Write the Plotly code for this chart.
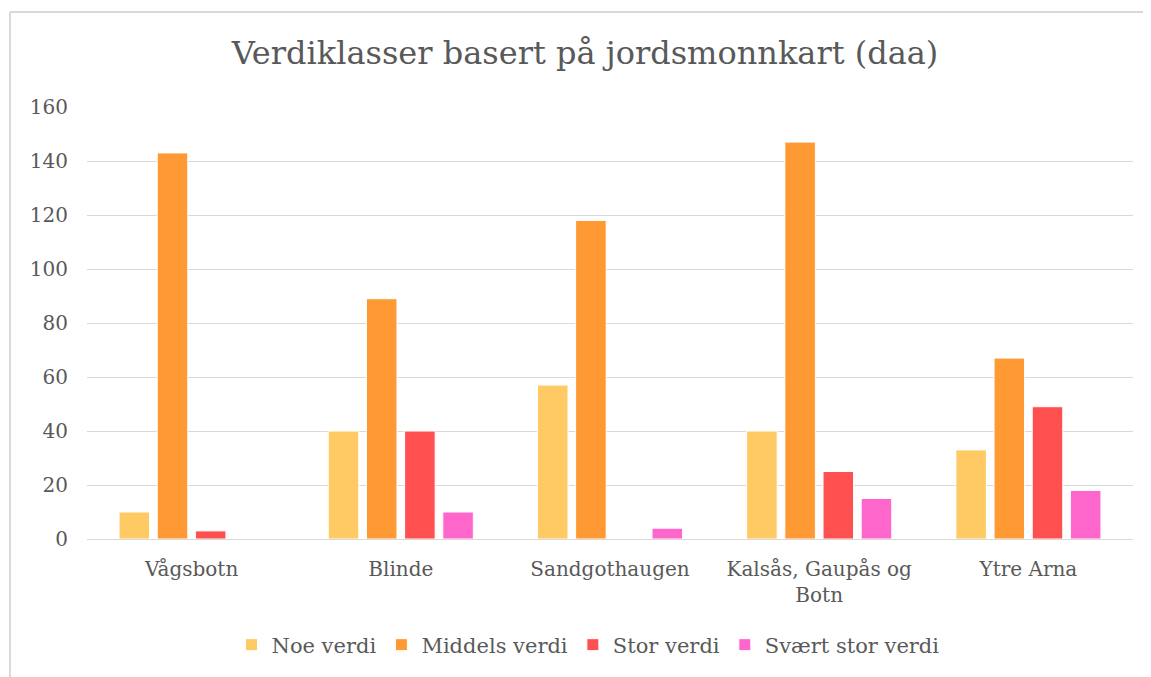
import plotly.graph_objects as go

categories = ["Vågsbotn", "Blinde", "Sandgothaugen", "Kalsås, Gaupås og<br>Botn", "Ytre Arna"]
series_names = ["Noe verdi", "Middels verdi", "Stor verdi", "Svært stor verdi"]
noe_verdi = [10, 40, 57, 40, 33]
middels_verdi = [143, 89, 118, 147, 67]
stor_verdi = [3, 40, 0, 25, 49]
svaert_stor_verdi = [0, 10, 4, 15, 18]
colors = ["#FFCA64", "#FF9933", "#FF5050", "#FF66CC"]
y_ticks = [0, 20, 40, 60, 80, 100, 120, 140, 160]

FONT = "DejaVu Serif, Liberation Serif, serif"
TXT = "#595959"

# page body has an 8px margin; figure coordinates are offset accordingly
W, H = 1147, 671
L, R, T, B = 79, 22, 99, 140
pw = W - L - R
ph = H - T - B

fig = go.Figure()
for name, vals, col in zip(series_names, [noe_verdi, middels_verdi, stor_verdi, svaert_stor_verdi], colors):
    fig.add_trace(go.Bar(name=name, x=categories, y=vals, marker=dict(color=col, line=dict(color="white", width=1))))

fig.update_layout(
    width=W, height=H,
    paper_bgcolor="white", plot_bgcolor="white",
    margin=dict(l=L, r=R, t=T, b=B, autoexpand=False),
    barmode="group", bargap=0.27, bargroupgap=0.2,
    title=dict(text="Verdiklasser basert på jordsmonnkart (daa)", x=(585 - 8) / W, xanchor="center",
               y=1 - 45 / H, yanchor="middle",
               font=dict(family=FONT, size=32, color=TXT)),
    font=dict(family=FONT, color=TXT),
    legend=dict(orientation="h", x=(588 - 8 - L) / pw, xanchor="center",
                y=-(645 - 8 - (T + ph)) / ph, yanchor="middle",
                font=dict(family=FONT, size=21, color=TXT), itemwidth=30, traceorder="normal",
                itemclick=False, tracegroupgap=0),
    showlegend=True,
)
fig.update_yaxes(range=[0, 160], tickvals=y_ticks, showgrid=True, gridcolor="#D9D9D9", gridwidth=1.3,
                 zeroline=False, showline=False, tickfont=dict(family=FONT, size=20, color=TXT),
                 ticklabelstandoff=18, automargin=False)
fig.update_xaxes(showline=True, linecolor="#D9D9D9", linewidth=1.3, showgrid=False,
                 tickfont=dict(family=FONT, size=20, color=TXT), ticklabelstandoff=12, automargin=False)

# chart border (light gray frame: top and left edges visible)
x0 = (2 - L) / pw
y1 = 1 + (T - 4) / ph
fig.add_shape(type="line", xref="paper", yref="paper", x0=x0, x1=1.5, y0=y1, y1=y1,
              line=dict(color="#D9D9D9", width=2), layer="below")
fig.add_shape(type="line", xref="paper", yref="paper", x0=x0, x1=x0, y0=-0.6, y1=y1,
              line=dict(color="#D9D9D9", width=2), layer="below")

fig.write_html("out.html")
